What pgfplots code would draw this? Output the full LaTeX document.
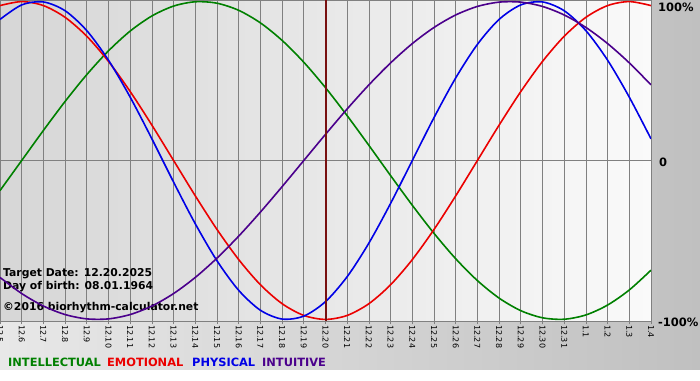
\documentclass[border=0pt]{standalone}
\usepackage{fontspec}
\setmainfont{DejaVu Sans}
\usepackage{pgfplots}
\pgfplotsset{compat=1.18}
\usepackage{pgfplotstable}

\definecolor{cgreen}{RGB}{0,128,0}
\definecolor{cred}{RGB}{235,0,0}
\definecolor{cblue}{RGB}{0,0,230}
\definecolor{cpurple}{RGB}{75,0,140}
\definecolor{ctarget}{RGB}{120,16,16}
\definecolor{bgL}{RGB}{232,232,232}
\definecolor{bgR}{RGB}{192,192,192}
\definecolor{paL}{RGB}{214,214,214}
\definecolor{paR}{RGB}{250,250,250}
\definecolor{cgrid}{RGB}{128,128,128}

\pgfplotstableread{
d phys emo intel intu
0 0.8879 0.9749 -0.1893 -0.7357
1 0.9791 1 0 -0.8372
2 0.9977 0.9749 0.1893 -0.9158
3 0.9423 0.9010 0.3717 -0.9694
4 0.8170 0.7818 0.5406 -0.9966
5 0.6311 0.6235 0.6901 -0.9966
6 0.3984 0.4339 0.8146 -0.9694
7 0.1362 0.2225 0.9096 -0.9158
8 -0.1362 0 0.9718 -0.8372
9 -0.3984 -0.2225 0.9989 -0.7357
10 -0.6311 -0.4339 0.9898 -0.6142
11 -0.8170 -0.6235 0.9450 -0.4759
12 -0.9423 -0.7818 0.8660 -0.3247
13 -0.9977 -0.9010 0.7557 -0.1646
14 -0.9791 -0.9749 0.6182 0
15 -0.8879 -1 0.4582 0.1646
16 -0.7308 -0.9749 0.2817 0.3247
17 -0.5196 -0.9010 0.0951 0.4759
18 -0.2698 -0.7818 -0.0951 0.6142
19 0 -0.6235 -0.2817 0.7357
20 0.2698 -0.4339 -0.4582 0.8372
21 0.5196 -0.2225 -0.6182 0.9158
22 0.7308 0 -0.7557 0.9694
23 0.8879 0.2225 -0.8660 0.9966
24 0.9791 0.4339 -0.9450 0.9966
25 0.9977 0.6235 -0.9898 0.9694
26 0.9423 0.7818 -0.9989 0.9158
27 0.8170 0.9010 -0.9718 0.8372
28 0.6311 0.9749 -0.9096 0.7357
29 0.3984 1 -0.8146 0.6142
30 0.1362 0.9749 -0.6901 0.4759
}\bio

\begin{document}
\begin{tikzpicture}
\shade[left color=bgL, right color=bgR] (0pt,-49pt) rectangle (700pt,321pt);
\fill[white] (0pt,-59pt) rectangle (700pt,-49pt);
\shade[left color=paL, right color=paR] (0pt,0pt) rectangle (651pt,321pt);
\begin{axis}[
  at={(0pt,0pt)}, anchor=south west,
  scale only axis, width=651pt, height=321pt,
  xmin=0, xmax=30, ymin=-1.01, ymax=1.01,
  axis line style={draw=cgrid, line width=0.8pt},
  xtick={0,...,30},
  xticklabels={12.5,12.6,12.7,12.8,12.9,12.10,12.11,12.12,12.13,12.14,12.15,12.16,12.17,12.18,12.19,12.20,12.21,12.22,12.23,12.24,12.25,12.26,12.27,12.28,12.29,12.30,12.31,1.1,1.2,1.3,1.4},
  xtick pos=left, tick align=outside,
  major tick length=3pt,
  x tick style={draw=cgrid, line width=0.8pt},
  ytick={0}, yticklabels={}, y tick style={draw=none},
  xmajorgrids, ymajorgrids,
  grid style={draw=cgrid, line width=0.8pt},
  xticklabel style={rotate=-90, anchor=west, inner sep=1pt, font=\fontsize{8}{9}\selectfont, text=black},
  every axis plot/.append style={line width=1.6pt, smooth, no markers},
]
\node[anchor=base west, inner sep=0pt, font=\fontsize{10.8}{12}\selectfont\bfseries] at (rel axis cs:0.0046,0.140) {Target Date: 12.20.2025};
\node[anchor=base west, inner sep=0pt, font=\fontsize{10.8}{12}\selectfont\bfseries] at (rel axis cs:0.0046,0.0966) {Day of birth: 08.01.1964};
\node[anchor=base west, inner sep=0pt, font=\fontsize{10.8}{12}\selectfont\bfseries] at (rel axis cs:0.0046,0.0312) {©2016 biorhythm-calculator.net};
\addplot[cgreen] table[x=d, y=intel] {\bio};
\addplot[cred] table[x=d, y=emo] {\bio};
\addplot[cblue] table[x=d, y=phys] {\bio};
\addplot[cpurple] table[x=d, y=intu] {\bio};
\addplot[ctarget, line width=2pt, sharp plot] coordinates {(15,-1.01) (15,1.01)};
\end{axis}
\begin{scope}[every node/.style={anchor=west, inner sep=0pt, font=\fontsize{11.5}{13}\selectfont\bfseries}]
\node at (658pt,314pt) {100\%};
\node at (659pt,159pt) {0};
\node at (658pt,-1pt) {-100\%};
\end{scope}
\begin{scope}[every node/.style={anchor=base west, inner sep=0pt, font=\fontsize{11.4}{13}\selectfont\bfseries}]
\node[text=cgreen] at (8pt,-45pt) {INTELLECTUAL};
\node[text=cred] at (107pt,-45pt) {EMOTIONAL};
\node[text=cblue] at (192pt,-45pt) {PHYSICAL};
\node[text=cpurple] at (262pt,-45pt) {INTUITIVE};
\end{scope}
\pgfresetboundingbox
\useasboundingbox (0pt,-59pt) rectangle (700pt,321pt);
\end{tikzpicture}
\end{document}
